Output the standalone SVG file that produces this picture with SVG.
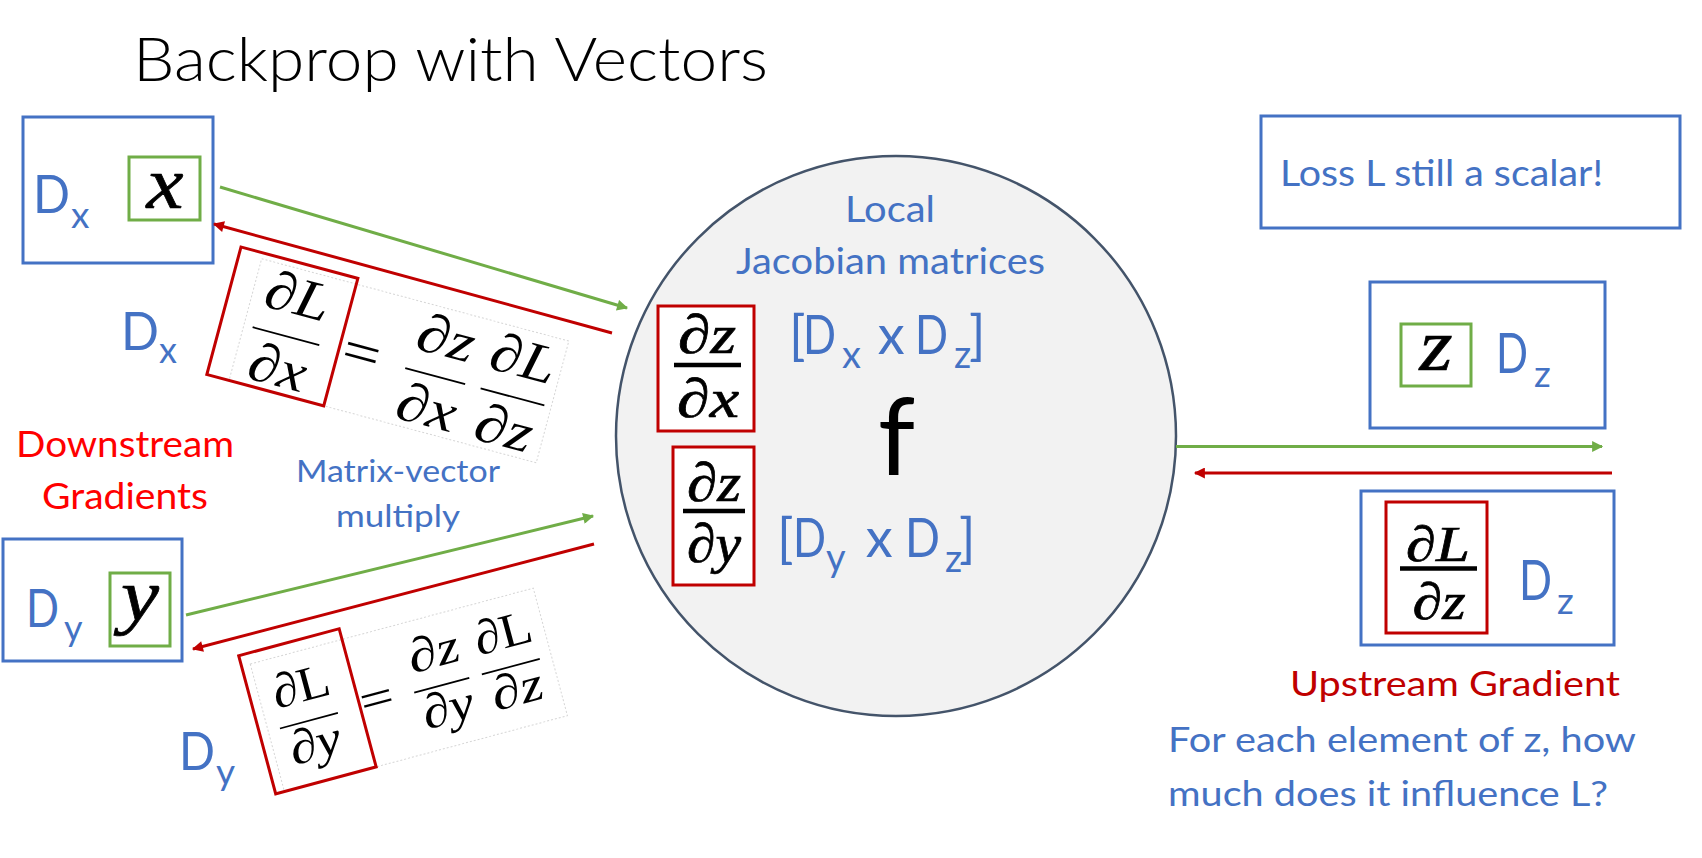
<svg xmlns="http://www.w3.org/2000/svg" width="1702" height="858" viewBox="0 0 1702 858">
<style>
.t{font-family:Lato,'Liberation Sans',sans-serif}
.blue{fill:#4472C4}
.m{font-family:'Liberation Serif','DejaVu Serif',serif;font-style:italic;fill:#000}
.up{font-style:normal}
.mb{stroke:#000;stroke-width:0.7}
.box{fill:#fff;stroke:#4472C4;stroke-width:3}
.rbox{fill:#fff;stroke:#C00000;stroke-width:3}
.rline{fill:none;stroke:#C00000;stroke-width:3}
.gbox{fill:#fff;stroke:#70AD47;stroke-width:3}
.frame{fill:#fff;stroke:#D6D6D6;stroke-width:1;stroke-dasharray:2 2}
.bar{stroke:#000;stroke-width:1.8}
.bbar{stroke:#000;stroke-width:4.5}
.ga{stroke:#70AD47;stroke-width:3;fill:none}
.ra{stroke:#C00000;stroke-width:3;fill:none}
</style>
<defs>
<marker id="ag" viewBox="0 0 10 10" refX="9" refY="5" markerWidth="13" markerHeight="11" orient="auto" markerUnits="userSpaceOnUse"><path d="M0,0 L10,5 L0,10 z" fill="#70AD47"/></marker>
<marker id="ar" viewBox="0 0 10 10" refX="9" refY="5" markerWidth="13" markerHeight="11" orient="auto" markerUnits="userSpaceOnUse"><path d="M0,0 L10,5 L0,10 z" fill="#C00000"/></marker>
</defs>
<rect width="1702" height="858" fill="#fff"/>

<g id="title"><text class="t" x="133" y="81" font-size="62" font-weight="300" textLength="635" lengthAdjust="spacingAndGlyphs">Backprop with Vectors</text></g>

<g id="node-f">
<circle cx="896" cy="436" r="280" fill="#F2F2F2" stroke="#44546A" stroke-width="2.5"/>
<text class="t blue" x="845" y="222" font-size="37" textLength="90" lengthAdjust="spacingAndGlyphs">Local</text>
<text class="t blue" x="736" y="274" font-size="36" textLength="309" lengthAdjust="spacingAndGlyphs">Jacobian matrices</text>
<rect class="rbox" x="658" y="306" width="96" height="125"/>
<text class="m mb" x="707" y="353" font-size="55" text-anchor="middle" textLength="58" lengthAdjust="spacingAndGlyphs">∂z</text>
<line class="bbar" x1="674" y1="365" x2="741" y2="365"/>
<text class="m mb" x="708" y="417" font-size="55" text-anchor="middle" textLength="62" lengthAdjust="spacingAndGlyphs">∂x</text>
<text class="t blue" font-size="54"><tspan x="789" y="354">[</tspan><tspan x="803" textLength="33" lengthAdjust="spacingAndGlyphs">D</tspan><tspan x="842" y="368" font-size="38">x</tspan><tspan x="864" y="354"> x </tspan><tspan x="915" textLength="33" lengthAdjust="spacingAndGlyphs">D</tspan><tspan x="954" y="368" font-size="38">z</tspan><tspan x="969" y="354">]</tspan></text>
<text class="t" x="878" y="475" font-size="106" fill="#000">f</text>
<rect class="rbox" x="673" y="447" width="81" height="138"/>
<text class="m mb" x="714" y="501" font-size="55" text-anchor="middle" textLength="54" lengthAdjust="spacingAndGlyphs">∂z</text>
<line class="bbar" x1="683" y1="511" x2="745" y2="511"/>
<text class="m mb" x="714" y="562" font-size="55" text-anchor="middle" textLength="54" lengthAdjust="spacingAndGlyphs">∂y</text>
<text class="t blue" font-size="54"><tspan x="777" y="557">[</tspan><tspan x="793" textLength="33" lengthAdjust="spacingAndGlyphs">D</tspan><tspan x="826" y="571" font-size="38">y</tspan><tspan x="852" y="557"> x </tspan><tspan x="905" textLength="35" lengthAdjust="spacingAndGlyphs">D</tspan><tspan x="945" y="572" font-size="38">z</tspan><tspan x="959" y="557">]</tspan></text>
</g>

<g id="node-x">
<rect class="box" x="23" y="117" width="190" height="146"/>
<text class="t blue" font-size="53"><tspan x="33" y="213" textLength="37" lengthAdjust="spacingAndGlyphs">D</tspan><tspan x="71" y="228" font-size="37">x</tspan></text>
<rect class="gbox" x="129" y="157" width="71" height="63"/>
<text class="m mb" x="165" y="208" font-size="74" text-anchor="middle" textLength="37" lengthAdjust="spacingAndGlyphs">x</text>
</g>

<g id="node-y">
<rect class="box" x="3" y="539" width="179" height="122"/>
<text class="t blue" font-size="53"><tspan x="26" y="627" textLength="33" lengthAdjust="spacingAndGlyphs">D</tspan><tspan x="64" y="641" font-size="36">y</tspan></text>
<rect class="gbox" x="110" y="573" width="60" height="73"/>
<text class="m mb" x="140" y="620" font-size="74" text-anchor="middle" textLength="38" lengthAdjust="spacingAndGlyphs">y</text>
</g>

<g id="node-loss">
<rect class="box" x="1261" y="116" width="419" height="112"/>
<text class="t blue" x="1280" y="186" font-size="37" textLength="323" lengthAdjust="spacingAndGlyphs">Loss L still a scalar!</text>
</g>

<g id="node-z">
<rect class="box" x="1370" y="282" width="235" height="146"/>
<rect class="gbox" x="1401" y="324" width="70" height="62"/>
<text class="m mb" x="1436" y="370" font-size="74" text-anchor="middle" textLength="33" lengthAdjust="spacingAndGlyphs">z</text>
<text class="t blue" font-size="56"><tspan x="1496" y="373" textLength="32" lengthAdjust="spacingAndGlyphs">D</tspan><tspan x="1534" y="387" font-size="37">z</tspan></text>
</g>

<g id="node-dLdz">
<rect class="box" x="1361" y="491" width="253" height="154"/>
<rect class="rbox" x="1386" y="502" width="101" height="131"/>
<text class="m mb" x="1438" y="561" font-size="50" text-anchor="middle" textLength="64" lengthAdjust="spacingAndGlyphs">∂L</text>
<line class="bbar" x1="1400" y1="568.5" x2="1477" y2="568.5"/>
<text class="m mb" x="1439" y="619" font-size="52" text-anchor="middle" textLength="53" lengthAdjust="spacingAndGlyphs">∂z</text>
<text class="t blue" font-size="56"><tspan x="1519" y="600" textLength="33" lengthAdjust="spacingAndGlyphs">D</tspan><tspan x="1557" y="614" font-size="37">z</tspan></text>
</g>

<g id="connectors">
<line class="ga" x1="220" y1="187" x2="627" y2="308" marker-end="url(#ag)"/>
<line class="ra" x1="612" y1="333" x2="214" y2="224" marker-end="url(#ar)"/>
<line class="ga" x1="186" y1="615" x2="593" y2="516" marker-end="url(#ag)"/>
<line class="ra" x1="594" y1="544" x2="193" y2="649" marker-end="url(#ar)"/>
<line class="ga" x1="1176" y1="446.5" x2="1602" y2="446.5" marker-end="url(#ag)"/>
<line class="ra" x1="1612" y1="473" x2="1195" y2="473" marker-end="url(#ar)"/>
</g>

<g id="eq-dx" transform="translate(241,247) rotate(15)">
<rect class="frame" x="23" y="6" width="318" height="126"/>
<rect class="rline" x="0" y="0" width="121" height="132"/>
<text class="m" x="68" y="51" font-size="55" text-anchor="middle" textLength="65" lengthAdjust="spacingAndGlyphs">∂L</text>
<line class="bar" x1="32" y1="74.5" x2="101" y2="74.5"/>
<text class="m" x="67" y="125" font-size="55" text-anchor="middle" textLength="58" lengthAdjust="spacingAndGlyphs">∂x</text>
<text class="m up" x="144" y="89" font-size="55" text-anchor="middle" textLength="38" lengthAdjust="spacingAndGlyphs">=</text>
<text class="m" x="222" y="53" font-size="55" text-anchor="middle" textLength="58" lengthAdjust="spacingAndGlyphs">∂z</text>
<line class="bar" x1="190" y1="74.5" x2="252" y2="74.5"/>
<text class="m" x="221" y="125" font-size="55" text-anchor="middle" textLength="60" lengthAdjust="spacingAndGlyphs">∂x</text>
<text class="m" x="302" y="53" font-size="55" text-anchor="middle" textLength="66" lengthAdjust="spacingAndGlyphs">∂L</text>
<line class="bar" x1="268" y1="74.5" x2="334" y2="74.5"/>
<text class="m" x="301" y="125" font-size="55" text-anchor="middle" textLength="58" lengthAdjust="spacingAndGlyphs">∂z</text>
</g>

<g id="eq-dy" transform="translate(238.7,655.7) rotate(-15)">
<rect class="frame" x="9" y="11" width="293" height="132"/>
<rect class="rline" x="0" y="0" width="104" height="143"/>
<text class="m" x="52" y="61" font-size="48" text-anchor="middle" textLength="58" lengthAdjust="spacingAndGlyphs">∂<tspan class="up">L</tspan></text>
<line class="bar" x1="21" y1="81" x2="81" y2="81"/>
<text class="m" x="51" y="120" font-size="48" text-anchor="middle" textLength="52" lengthAdjust="spacingAndGlyphs">∂y</text>
<text class="m up" x="122" y="93" font-size="48" text-anchor="middle" textLength="34" lengthAdjust="spacingAndGlyphs">=</text>
<text class="m" x="189" y="62" font-size="48" text-anchor="middle" textLength="52" lengthAdjust="spacingAndGlyphs">∂z</text>
<line class="bar" x1="160" y1="81" x2="217" y2="81"/>
<text class="m" x="188.5" y="120" font-size="48" text-anchor="middle" textLength="52" lengthAdjust="spacingAndGlyphs">∂y</text>
<text class="m" x="261" y="62" font-size="48" text-anchor="middle" textLength="58" lengthAdjust="spacingAndGlyphs">∂<tspan class="up">L</tspan></text>
<line class="bar" x1="230" y1="81" x2="290" y2="81"/>
<text class="m" x="260" y="120" font-size="48" text-anchor="middle" textLength="52" lengthAdjust="spacingAndGlyphs">∂z</text>
</g>

<g id="labels">
<text class="t blue" font-size="53"><tspan x="121" y="350" textLength="38" lengthAdjust="spacingAndGlyphs">D</tspan><tspan x="159" y="363" font-size="36">x</tspan></text>
<text class="t blue" font-size="53"><tspan x="179" y="770" textLength="36" lengthAdjust="spacingAndGlyphs">D</tspan><tspan x="216" y="785" font-size="37">y</tspan></text>
<text class="t" x="16" y="457" font-size="37" fill="#FF0000" textLength="218" lengthAdjust="spacingAndGlyphs">Downstream</text>
<text class="t" x="42" y="509" font-size="37" fill="#FF0000" textLength="166" lengthAdjust="spacingAndGlyphs">Gradients</text>
<text class="t blue" x="296" y="482" font-size="31" textLength="204" lengthAdjust="spacingAndGlyphs">Matrix-vector</text>
<text class="t blue" x="336" y="527" font-size="31" textLength="124" lengthAdjust="spacingAndGlyphs">multiply</text>
<text class="t" x="1290" y="696" font-size="35" fill="#C00000" textLength="330" lengthAdjust="spacingAndGlyphs">Upstream Gradient</text>
<text class="t blue" x="1168" y="752" font-size="34" textLength="468" lengthAdjust="spacingAndGlyphs">For each element of z, how</text>
<text class="t blue" x="1168" y="806" font-size="34" textLength="440" lengthAdjust="spacingAndGlyphs">much does it influence L?</text>
</g>
</svg>
